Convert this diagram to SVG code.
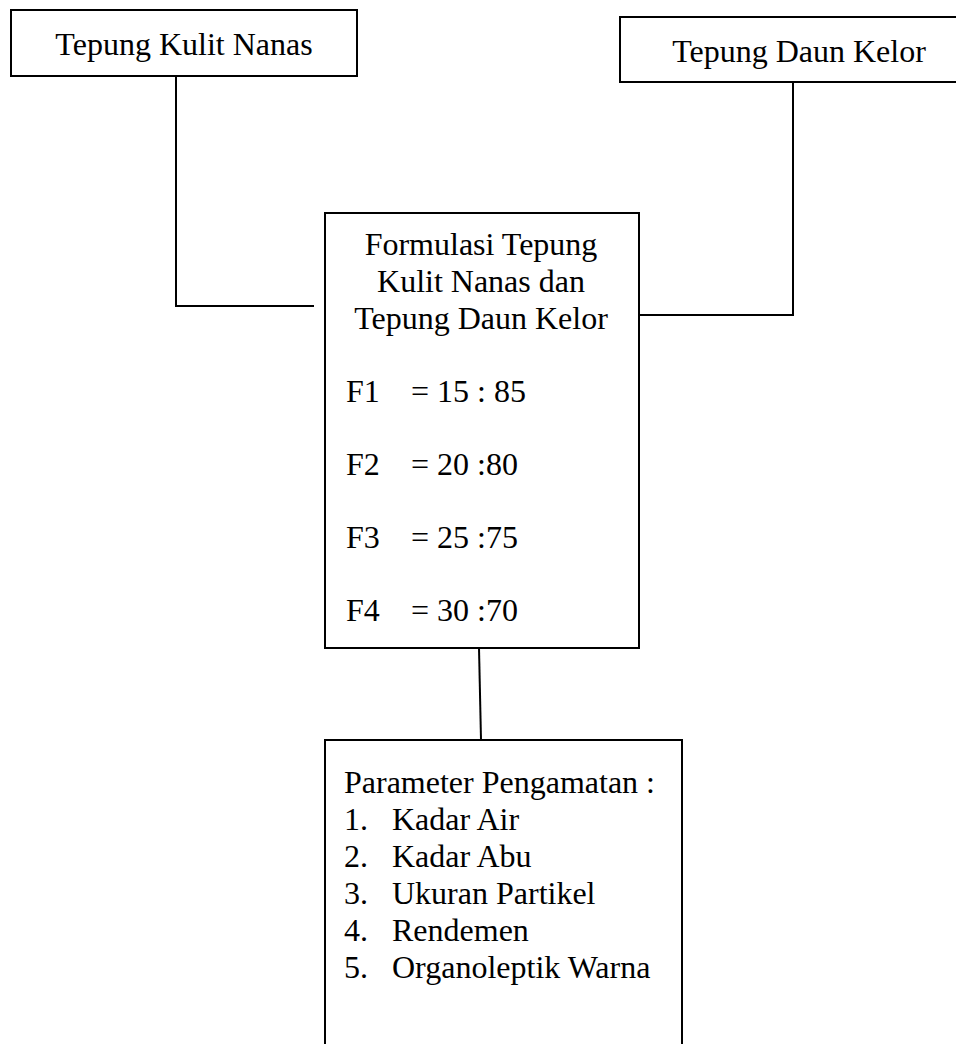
<svg xmlns="http://www.w3.org/2000/svg" width="956" height="1044" viewBox="0 0 956 1044">
<style>
.box{fill:#fff;stroke:#000;stroke-width:2}
.ln{stroke:#000;stroke-width:2;fill:none}
text{font-family:"Liberation Serif","Times New Roman",serif;font-size:32px;fill:#000}
.c{text-anchor:middle}
</style>
<rect width="956" height="1044" fill="#fff"/>
<g id="connectors">
<polyline class="ln" points="176,77 176,306 314,306"/>
<polyline class="ln" points="639,315 793,315 793,82"/>
<line class="ln" x1="479" y1="648" x2="481" y2="740"/>
</g>
<g id="node-kulit-nanas">
<rect class="box" x="11" y="10" width="346" height="66"/>
<text class="c" x="184" y="55">Tepung Kulit Nanas</text>
</g>
<g id="node-daun-kelor">
<rect class="box" x="620" y="17" width="360" height="65"/>
<text class="c" x="799" y="62">Tepung Daun Kelor</text>
</g>
<g id="node-formulasi">
<rect class="box" x="325" y="213" width="314" height="435"/>
<text class="c" x="481" y="255">Formulasi Tepung</text>
<text class="c" x="481" y="292">Kulit Nanas dan</text>
<text class="c" x="481" y="329">Tepung Daun Kelor</text>
<text x="346" y="402">F1</text><text x="411" y="402">= 15 : 85</text>
<text x="346" y="475">F2</text><text x="411" y="475">= 20 :80</text>
<text x="346" y="548">F3</text><text x="411" y="548">= 25 :75</text>
<text x="346" y="621">F4</text><text x="411" y="621">= 30 :70</text>
</g>
<g id="node-parameter">
<path class="ln" d="M325,1046 V740 H682 V1046"/>
<text x="344" y="793">Parameter Pengamatan :</text>
<text x="344" y="830">1.</text><text x="392" y="830">Kadar Air</text>
<text x="344" y="867">2.</text><text x="392" y="867">Kadar Abu</text>
<text x="344" y="904">3.</text><text x="392" y="904">Ukuran Partikel</text>
<text x="344" y="941">4.</text><text x="392" y="941">Rendemen</text>
<text x="344" y="978">5.</text><text x="392" y="978">Organoleptik Warna</text>
</g>
</svg>
